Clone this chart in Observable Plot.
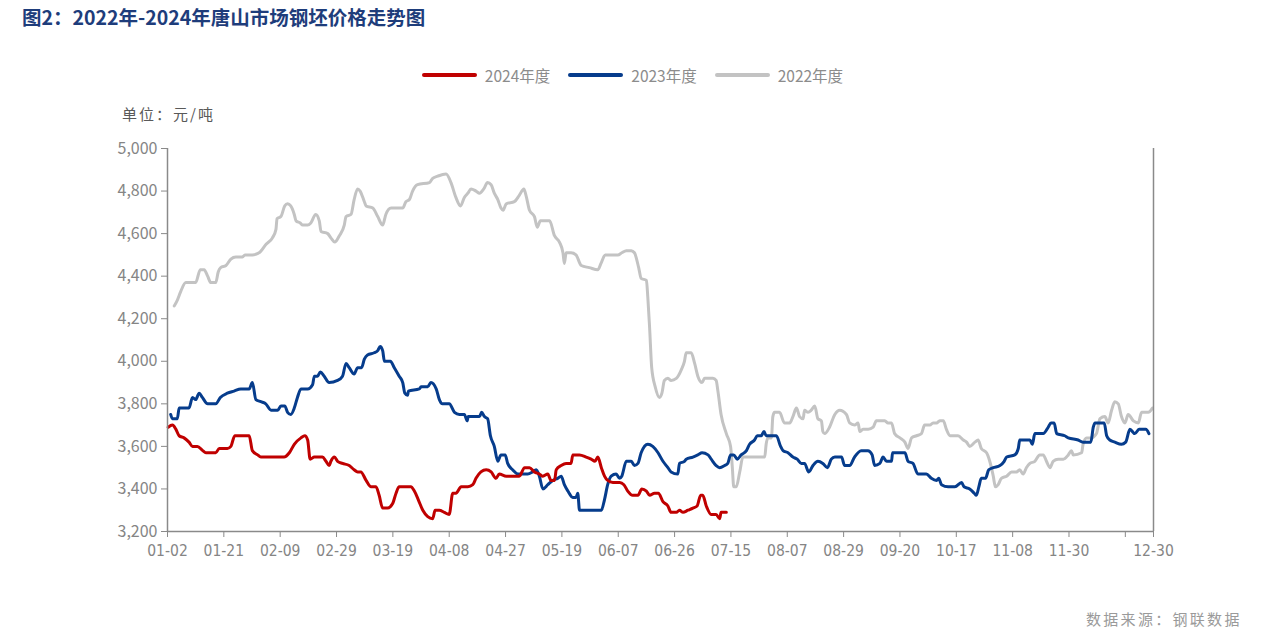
<!DOCTYPE html>
<html><head><meta charset="utf-8">
<script src="https://cdn.jsdelivr.net/npm/d3@7"></script>
<script src="https://cdn.jsdelivr.net/npm/@observablehq/plot@0.6"></script>
<style>
body{margin:0;background:#fff;}
#wrap{position:relative;width:1265px;height:644px;overflow:hidden;font-family:"Noto Sans CJK SC",sans-serif;background:#fff;}
#chart{position:absolute;left:0;top:0;}
#title{position:absolute;left:22px;top:2px;font-size:19.5px;font-weight:bold;color:#1e3d7b;white-space:nowrap;}
#legend{position:absolute;left:0;top:64px;width:1265px;display:flex;justify-content:center;align-items:center;font-size:15.5px;color:#8c8c8c;}
.item{display:flex;align-items:center;margin:0 9px;}
.sw{width:55px;height:4px;border-radius:2px;margin-right:8px;}
#unit{position:absolute;left:122px;top:103px;font-size:15px;color:#595959;letter-spacing:2px;}
#source{position:absolute;left:1086px;top:608px;font-size:15px;color:#9a9a9a;letter-spacing:2.3px;}
</style></head>
<body>
<div id="wrap">
<div id="chart"></div>
<div id="title">图2：2022年-2024年唐山市场钢坯价格走势图</div>
<div id="legend"></div>
<div id="unit">单位：元/吨</div>
<div id="source">数据来源：钢联数据</div>
</div>
<script>
// ---- data (category index along the date axis, price in 元/吨) ----
const seriesNames = ["2024年度", "2023年度", "2022年度"];
const seriesColors = ["#c00000", "#063c8c", "#c3c3c3"];

const xTickIdx = [0,16,32,48,64,80,96,112,128,144,160,176,192,208,224,240,256,272,280];
const xTickLabels = ["01-02","01-21","02-09","02-29","03-19","04-08","04-27","05-19","06-07","06-26","07-15","08-07","08-29","09-20","10-17","11-08","11-30","","12-30"];
const yTicks = [3200,3400,3600,3800,4000,4200,4400,4600,4800,5000];

const idx2024 = [0.2,1.4,2.4,3.3,4.7,6.1,7.1,8.5,10.0,10.9,13.7,14.7,17.0,18.0,19.1,23.2,24.1,25.6,26.5,33.1,34.6,36.0,37.9,39.0,39.8,40.5,41.7,44.0,45.0,45.9,46.4,47.4,48.3,49.7,51.6,53.0,54.0,54.9,56.4,57.8,59.2,60.1,61.1,62.5,63.9,64.9,65.8,69.1,70.1,71.2,72.5,73.9,75.3,76.0,77.2,78.6,80.0,81.0,81.9,83.4,85.3,86.7,87.6,89.0,90.5,91.9,93.3,94.2,96.2,98.0,99.9,101.4,102.8,104.2,105.6,106.6,108.0,108.9,109.9,110.4,111.8,113.2,114.6,115.1,117.0,118.9,120.3,121.4,122.2,123.2,124.1,125.0,126.5,128.4,129.6,130.7,132.1,133.6,134.7,136.0,136.9,138.3,139.4,140.7,142.1,143.0,144.5,145.4,146.4,147.8,149.2,150.4,151.4,152.0,153.0,154.4,155.8,156.8,157.2,158.7];
const val2024 = [3690,3700,3680,3650,3640,3620,3600,3600,3580,3570,3570,3590,3590,3600,3650,3650,3580,3560,3550,3550,3570,3610,3640,3650,3630,3540,3550,3550,3530,3510,3530,3550,3530,3520,3510,3490,3480,3480,3440,3410,3410,3370,3310,3310,3330,3380,3410,3410,3390,3350,3300,3270,3260,3300,3300,3290,3280,3380,3380,3410,3410,3420,3450,3480,3490,3480,3450,3470,3460,3460,3460,3500,3500,3480,3470,3460,3470,3440,3440,3490,3510,3520,3520,3560,3560,3550,3540,3530,3550,3500,3460,3440,3430,3430,3420,3390,3370,3370,3400,3390,3370,3380,3380,3340,3320,3290,3290,3300,3290,3300,3310,3320,3370,3370,3320,3280,3280,3260,3290,3290];

const idx2023 = [0.9,1.4,2.8,3.3,6.1,7.1,8.0,9.0,9.9,11.4,13.7,15.0,17.0,18.9,20.8,23.2,24.1,25.1,26.5,27.9,29.4,31.3,32.2,33.3,34.1,35.0,36.0,36.9,37.9,39.8,41.2,41.7,42.6,43.4,44.5,45.9,48.3,49.7,50.7,51.6,53.0,54.0,55.1,55.9,56.8,58.7,59.7,60.4,61.1,61.6,63.3,64.4,65.8,66.8,67.4,68.2,68.4,71.5,72.0,73.9,74.8,76.3,77.2,78.1,80.0,81.5,82.9,84.3,85.1,85.4,88.6,89.2,90.0,90.9,91.7,92.8,93.8,94.7,95.9,96.6,98.0,99.5,102.3,103.7,104.7,105.6,106.6,108.0,109.4,110.8,111.8,112.7,113.7,115.1,116.0,116.5,117.0,123.2,124.1,125.0,126.0,127.4,128.4,129.0,130.3,131.7,132.6,133.6,134.5,136.4,137.8,139.3,140.7,142.1,143.0,144.9,145.4,146.8,147.3,149.2,150.6,151.8,153.5,154.4,155.8,156.8,158.2,159.1,159.9,160.8,161.8,162.9,164.4,165.3,166.7,167.5,168.6,169.4,170.0,172.9,174.1,174.8,176.2,177.6,178.8,180.0,180.9,182.1,183.3,184.7,186.1,187.4,188.5,189.5,191.4,192.3,193.7,195.1,197.0,198.9,200.1,200.8,202.3,203.2,204.2,205.6,205.9,209.4,210.3,211.7,213.1,215.5,216.9,218.4,219.0,219.8,221.7,223.6,225.5,226.2,227.8,229.1,229.7,230.4,231.1,232.3,233.2,234.5,236.4,237.6,238.3,240.6,241.6,242.0,244.9,245.6,246.3,248.7,250.1,250.9,251.8,252.5,254.8,255.8,258.6,260.0,262.2,262.9,263.4,265.2,266.0,266.7,267.6,269.0,270.9,272.1,273.3,274.7,275.9,277.8,278.7];
const val2023 = [3750,3730,3730,3780,3780,3830,3820,3850,3830,3800,3800,3830,3850,3860,3870,3870,3900,3820,3810,3800,3770,3770,3790,3790,3760,3750,3780,3830,3870,3870,3890,3930,3930,3950,3930,3900,3910,3930,3990,3970,3940,3970,3970,4010,4030,4040,4050,4070,4050,4000,4000,3970,3930,3900,3850,3840,3860,3870,3880,3880,3900,3870,3820,3800,3800,3760,3750,3750,3720,3740,3740,3760,3740,3730,3650,3600,3530,3560,3560,3520,3490,3470,3470,3480,3490,3460,3400,3420,3440,3450,3460,3420,3390,3360,3360,3380,3300,3300,3350,3420,3460,3470,3450,3460,3530,3530,3510,3520,3570,3610,3600,3570,3530,3500,3480,3470,3520,3530,3540,3550,3560,3570,3560,3540,3510,3500,3510,3520,3560,3560,3540,3560,3580,3610,3630,3650,3650,3670,3650,3650,3600,3580,3570,3550,3540,3520,3520,3480,3510,3530,3520,3500,3540,3550,3550,3510,3510,3550,3580,3580,3560,3510,3520,3550,3530,3530,3570,3570,3530,3520,3470,3470,3450,3440,3450,3420,3410,3410,3430,3410,3400,3380,3370,3410,3450,3450,3490,3500,3510,3530,3550,3560,3590,3630,3630,3610,3660,3660,3690,3710,3710,3660,3650,3640,3630,3620,3620,3690,3710,3710,3710,3650,3630,3620,3610,3620,3680,3660,3680,3680,3660];

const idx2022 = [1.9,2.6,3.8,5.2,6.6,8.0,9.3,10.4,11.4,12.3,13.7,14.4,15.1,16.6,18.0,19.4,21.3,22.0,24.1,26.0,28.0,29.8,30.8,31.1,32.2,33.3,34.1,35.0,36.0,36.5,37.7,38.4,39.8,40.7,42.1,43.1,43.6,45.5,46.4,47.5,48.8,50.2,50.7,52.1,53.0,54.0,54.7,55.9,56.4,58.3,59.7,61.1,62.0,63.5,66.8,67.7,68.7,69.6,71.0,74.4,75.3,76.7,79.1,80.5,81.9,83.2,84.3,85.3,86.2,87.6,88.6,89.8,90.9,91.9,92.8,93.8,94.7,95.3,96.2,98.5,99.9,101.2,101.8,102.8,104.2,105.0,105.9,107.0,108.5,109.9,111.3,112.3,112.7,113.2,114.6,116.0,117.5,119.8,122.2,123.1,124.3,127.9,129.0,130.3,131.7,132.6,133.8,134.5,136.0,136.4,136.9,137.5,138.5,139.7,140.4,141.1,142.1,143.0,144.5,145.9,146.8,147.3,148.7,149.7,150.6,151.8,152.5,154.9,155.8,156.3,157.2,158.7,159.9,160.4,160.8,161.5,162.5,163.4,169.6,170.0,170.5,171.5,171.9,172.4,173.8,175.2,176.7,177.6,178.6,179.5,180.5,180.9,181.9,182.8,183.8,184.7,185.7,186.1,186.6,188.0,189.5,190.9,192.8,193.7,195.1,196.1,196.6,197.5,199.0,200.4,201.3,203.7,204.6,205.6,206.5,208.0,209.4,210.3,211.3,212.7,214.1,215.0,216.5,217.4,218.4,219.3,220.3,221.2,222.2,224.5,226.0,226.9,227.8,229.3,230.2,231.1,232.6,233.5,234.5,235.1,235.9,236.8,238.3,239.7,241.1,242.0,243.0,243.9,244.9,246.3,247.7,248.7,249.6,250.6,251.5,252.9,254.4,255.8,256.7,257.2,259.6,260.0,261.0,262.4,263.8,264.8,266.2,267.1,268.1,269.0,270.0,270.9,271.9,272.8,274.3,275.7,276.6,278.5,279.7];
const val2022 = [4260,4280,4330,4370,4370,4370,4430,4430,4400,4370,4370,4420,4440,4450,4480,4490,4490,4500,4500,4510,4550,4580,4620,4670,4680,4730,4740,4730,4690,4660,4650,4640,4640,4650,4690,4660,4610,4600,4580,4560,4590,4640,4680,4690,4760,4810,4800,4750,4730,4720,4680,4640,4690,4720,4720,4750,4760,4800,4830,4840,4860,4870,4880,4840,4770,4730,4770,4790,4810,4800,4790,4810,4840,4830,4790,4760,4720,4710,4740,4750,4780,4810,4780,4710,4680,4630,4660,4660,4660,4590,4560,4510,4460,4510,4510,4500,4450,4440,4430,4460,4500,4500,4510,4520,4520,4510,4440,4390,4380,4300,4160,3970,3880,3830,3850,3910,3920,3910,3920,3960,4000,4040,4040,3990,3930,3900,3920,3920,3910,3860,3750,3660,3600,3500,3410,3410,3480,3550,3550,3610,3640,3640,3740,3760,3760,3710,3710,3740,3780,3740,3730,3770,3760,3770,3790,3730,3720,3670,3660,3690,3750,3770,3750,3710,3700,3710,3670,3680,3680,3690,3720,3720,3710,3710,3660,3640,3620,3590,3640,3650,3660,3700,3700,3710,3710,3720,3720,3680,3650,3650,3630,3620,3600,3620,3630,3590,3570,3530,3460,3410,3420,3450,3460,3480,3480,3490,3470,3500,3520,3530,3560,3560,3530,3500,3530,3540,3540,3560,3580,3560,3570,3610,3640,3640,3660,3730,3740,3710,3770,3810,3800,3740,3710,3750,3720,3710,3760,3760,3780];

// ---- build ----
const toRows = (xs, ys) => xs.map((x, i) => ({x, y: ys[i]}));
const rows2024 = toRows(idx2024, val2024);
const rows2023 = toRows(idx2023, val2023);
const rows2022 = toRows(idx2022, val2022);
const tickLabel = new Map(xTickIdx.map((d, i) => [d, xTickLabels[i]]));
const axisColor = "#8a8a8a";

const chart = Plot.plot({
  width: 1265, height: 644,
  marginLeft: 167, marginRight: 112, marginTop: 148, marginBottom: 113,
  x: {domain: [0, 280]},
  y: {domain: [3200, 5000]},
  style: {background: "transparent", overflow: "visible"},
  marks: [
    Plot.line(rows2022, {x: "x", y: "y", stroke: seriesColors[2], strokeWidth: 3, curve: "monotone-x"}),
    Plot.line(rows2023, {x: "x", y: "y", stroke: seriesColors[1], strokeWidth: 3, curve: "monotone-x"}),
    Plot.line(rows2024, {x: "x", y: "y", stroke: seriesColors[0], strokeWidth: 3, curve: "monotone-x"}),
    Plot.ruleX([0, 280], {stroke: axisColor, strokeWidth: 1.5}),
    Plot.ruleY([3200], {stroke: axisColor, strokeWidth: 1.5}),
    Plot.axisY({ticks: yTicks, tickSize: 6, tickPadding: 4, label: null, tickFormat: d3.format(","),
      stroke: axisColor, fill: "#858585", fontSize: 16, fontFamily: "Noto Sans CJK SC"}),
    Plot.axisX({ticks: xTickIdx, tickSize: 6, tickPadding: 7, label: null, tickFormat: d => tickLabel.get(d),
      stroke: axisColor, fill: "#858585", fontSize: 15.5, fontFamily: "'Liberation Sans Narrow', 'DejaVu Sans Condensed', Roboto"})
  ]
});
document.getElementById("chart").appendChild(chart);

const legend = document.getElementById("legend");
seriesNames.forEach((n, i) => {
  const it = document.createElement("div");
  it.className = "item";
  it.innerHTML = `<span class="sw" style="background:${seriesColors[i]}"></span><span>${n}</span>`;
  legend.appendChild(it);
});
</script>
</body></html>
